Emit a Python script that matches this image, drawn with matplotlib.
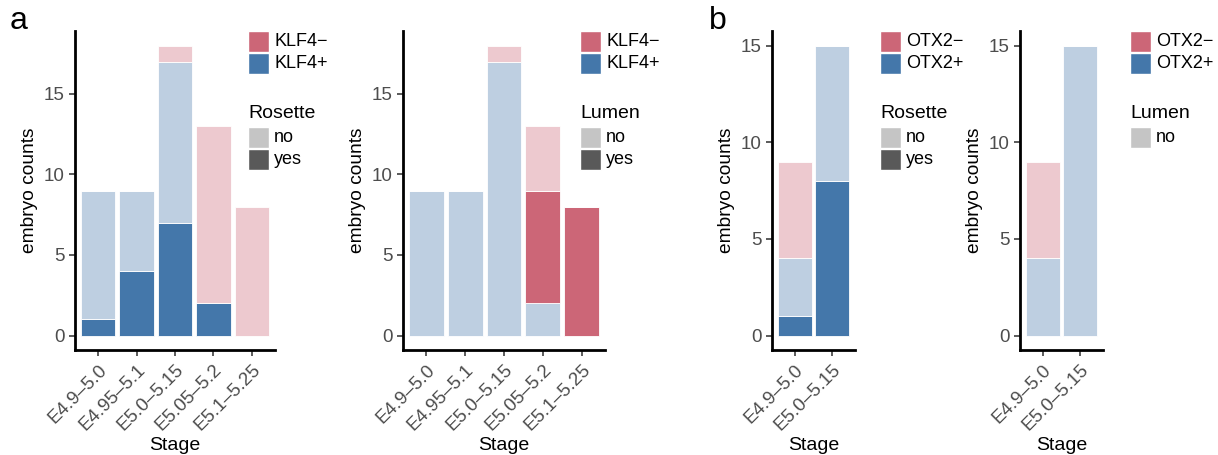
import matplotlib
matplotlib.use("Agg")
import matplotlib.pyplot as plt
from matplotlib.patches import Rectangle
import numpy as np

plt.rcParams["font.family"] = ["Liberation Sans", "DejaVu Sans"]

W, H = 1218, 455

# --- data -------------------------------------------------------------
stages_klf4 = ["E4.9–5.0", "E4.95–5.1", "E5.0–5.15", "E5.05–5.2", "E5.1–5.25"]
stages_otx2 = ["E4.9–5.0", "E5.0–5.15"]

# stacked bottom -> top: marker+ yes, marker+ no, marker- yes, marker- no
klf4_rosette_pos_yes = [1, 4, 7, 2, 0]
klf4_rosette_pos_no = [8, 5, 10, 0, 0]
klf4_rosette_neg_yes = [0, 0, 0, 0, 0]
klf4_rosette_neg_no = [0, 0, 1, 11, 8]

klf4_lumen_pos_yes = [0, 0, 0, 0, 0]
klf4_lumen_pos_no = [9, 9, 17, 2, 0]
klf4_lumen_neg_yes = [0, 0, 0, 7, 8]
klf4_lumen_neg_no = [0, 0, 1, 4, 0]

otx2_rosette_pos_yes = [1, 8]
otx2_rosette_pos_no = [3, 7]
otx2_rosette_neg_yes = [0, 0]
otx2_rosette_neg_no = [5, 0]

otx2_lumen_pos_yes = [0, 0]
otx2_lumen_pos_no = [4, 15]
otx2_lumen_neg_yes = [0, 0]
otx2_lumen_neg_no = [5, 0]

BLUE = "#4477AA"
RED = "#CC6677"
ALPHA_NO = 0.35
GREY_YES = "#595959"
TICK_GREY = "#4D4D4D"


def px_rect(x0, y0, x1, y1):
    return [x0 / W, 1 - y1 / H, (x1 - x0) / W, (y1 - y0) / H]


def blend(color, alpha):
    rgb = np.array(matplotlib.colors.to_rgb(color))
    return tuple(alpha * rgb + (1 - alpha) * 1.0)


def draw_panel(ax, stages, pos_yes, pos_no, neg_yes, neg_no, ymax, yticks):
    x = np.arange(1, len(stages) + 1)
    layers = [
        (pos_yes, BLUE),
        (pos_no, blend(BLUE, ALPHA_NO)),
        (neg_yes, RED),
        (neg_no, blend(RED, ALPHA_NO)),
    ]
    bottom = np.zeros(len(stages))
    for values, color in layers:
        values = np.array(values, dtype=float)
        ax.bar(x, values, width=0.9, bottom=bottom, color=color,
               edgecolor="white", linewidth=0.6)
        bottom += values

    ax.set_xlim(0.4, len(stages) + 0.6)
    ax.set_ylim(-0.05 * ymax, 1.05 * ymax)
    ax.set_yticks(yticks)
    ax.set_xticks(x)
    ax.set_xticklabels(stages, rotation=45, ha="right", va="top",
                       rotation_mode="anchor")
    ax.tick_params(axis="both", colors=TICK_GREY, labelsize=13.5,
                   length=4, width=1.3, labelcolor=TICK_GREY)
    ax.tick_params(axis="x", pad=4)
    for side in ["top", "right"]:
        ax.spines[side].set_visible(False)
    for side in ["left", "bottom"]:
        ax.spines[side].set_linewidth(2)
        ax.spines[side].set_color("black")
    ax.set_xlabel("Stage", fontsize=14, labelpad=2)
    ax.set_ylabel("embryo counts", fontsize=13.8)


def draw_legend(fig, x, marker, title, show_yes=True):
    key = 21
    entries = [
        (31, RED, f"{marker}−"),
        (53, BLUE, f"{marker}+"),
    ]
    for y, color, label in entries:
        fig.add_artist(Rectangle((x / W, 1 - (y + key) / H), key / W, key / H,
                                 transform=fig.transFigure, facecolor=color,
                                 edgecolor="white", linewidth=1))
        fig.text((x + key + 5) / W, 1 - (y + key / 2) / H, label,
                 fontsize=13, va="center", ha="left")

    fig.text(x / W, 1 - 113 / H, title, fontsize=14, va="center", ha="left")
    alpha_entries = [(127, blend(GREY_YES, ALPHA_NO), "no")]
    if show_yes:
        alpha_entries.append((149, GREY_YES, "yes"))
    for y, color, label in alpha_entries:
        fig.add_artist(Rectangle((x / W, 1 - (y + key) / H), key / W, key / H,
                                 transform=fig.transFigure, facecolor=color,
                                 edgecolor="white", linewidth=1))
        fig.text((x + key + 5) / W, 1 - (y + key / 2) / H, label,
                 fontsize=13, va="center", ha="left")


fig = plt.figure(figsize=(W / 100, H / 100), dpi=100)

ax1 = fig.add_axes(px_rect(75, 31, 275, 350))
draw_panel(ax1, stages_klf4, klf4_rosette_pos_yes, klf4_rosette_pos_no,
           klf4_rosette_neg_yes, klf4_rosette_neg_no, 18, [0, 5, 10, 15])
draw_legend(fig, 248, "KLF4", "Rosette")

ax2 = fig.add_axes(px_rect(403, 31, 605, 350))
draw_panel(ax2, stages_klf4, klf4_lumen_pos_yes, klf4_lumen_pos_no,
           klf4_lumen_neg_yes, klf4_lumen_neg_no, 18, [0, 5, 10, 15])
draw_legend(fig, 580, "KLF4", "Lumen")

ax3 = fig.add_axes(px_rect(772, 31, 855, 350))
draw_panel(ax3, stages_otx2, otx2_rosette_pos_yes, otx2_rosette_pos_no,
           otx2_rosette_neg_yes, otx2_rosette_neg_no, 15, [0, 5, 10, 15])
draw_legend(fig, 880, "OTX2", "Rosette")

ax4 = fig.add_axes(px_rect(1020, 31, 1103, 350))
draw_panel(ax4, stages_otx2, otx2_lumen_pos_yes, otx2_lumen_pos_no,
           otx2_lumen_neg_yes, otx2_lumen_neg_no, 15, [0, 5, 10, 15])
draw_legend(fig, 1130, "OTX2", "Lumen", show_yes=False)

fig.text(10 / W, 1 - 21 / H, "a", fontsize=23, va="center", ha="left")
fig.text(709 / W, 1 - 21 / H, "b", fontsize=23, va="center", ha="left")

fig.savefig("out.png", dpi=100)
